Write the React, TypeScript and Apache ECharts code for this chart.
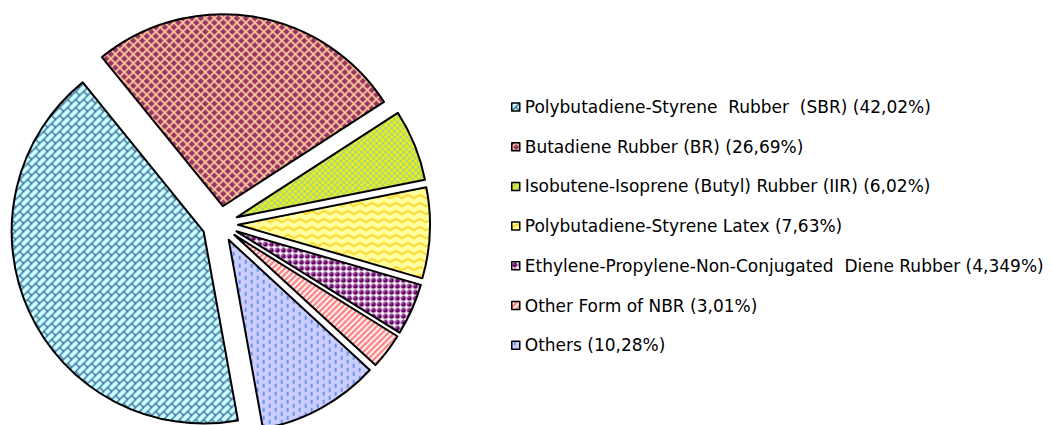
import React, { useEffect, useRef } from "react";
import * as echarts from "echarts";

const categories = [
  "Polybutadiene-Styrene  Rubber  (SBR)",
  "Butadiene Rubber (BR)",
  "Isobutene-Isoprene (Butyl) Rubber (IIR)",
  "Polybutadiene-Styrene Latex",
  "Ethylene-Propylene-Non-Conjugated  Diene Rubber",
  "Other Form of NBR",
  "Others",
];
const shares = [42.02, 26.69, 6.02, 7.63, 4.349, 3.01, 10.28];
const shareLabels = ["42,02%", "26,69%", "6,02%", "7,63%", "4,349%", "3,01%", "10,28%"];

const svgUrl = (w: number, h: number, body: string) =>
  "data:image/svg+xml;charset=utf-8," +
  encodeURIComponent(
    `<svg xmlns="http://www.w3.org/2000/svg" width="${w}" height="${h}" viewBox="0 0 ${w} ${h}">${body}</svg>`
  );

const pat = (w: number, h: number, body: string) => ({
  image: svgUrl(w, h, body),
  repeat: "repeat",
  imageWidth: w,
  imageHeight: h,
});

const patterns = [
  // SBR: diagonal bricks
  pat(
    8,
    8,
    `<rect width="8" height="8" fill="#CCFFFF"/><path d="M-1 9L9 -1M-1 1L1 -1M7 9L9 7M4 4L8 8" stroke="#2F6496" stroke-width="1.3" fill="none"/>`
  ),
  // BR: maroon diamonds on peach
  pat(
    9,
    9,
    `<rect width="9" height="9" fill="#FFCC99"/><g fill="#993366"><path d="M4.5 1.2L7.8 4.5L4.5 7.8L1.2 4.5Z"/><path d="M0 -3.3L3.3 0L0 3.3L-3.3 0Z"/><path d="M9 -3.3L12.3 0L9 3.3L5.7 0Z"/><path d="M0 5.7L3.3 9L0 12.3L-3.3 9Z"/><path d="M9 5.7L12.3 9L9 12.3L5.7 9Z"/></g>`
  ),
  // IIR: yellow with lattice
  pat(
    6,
    6,
    `<rect width="6" height="6" fill="#F4F800"/><path d="M0 0L6 6M6 0L0 6" stroke="#9FC6A6" stroke-width="1.1" fill="none"/>`
  ),
  // Latex: zigzag
  pat(
    12,
    8,
    `<rect width="12" height="8" fill="#FFFFA0"/><path d="M-3 3.75L0 5.5L6 2L12 5.5L15 3.75" stroke="#FFD21F" stroke-width="1.8" fill="none"/>`
  ),
  // EPDM: purple spheres
  pat(
    6,
    6,
    `<rect width="6" height="6" fill="#FFFFFF"/><circle cx="3" cy="3" r="2.5" fill="#660066"/><circle cx="2.2" cy="2.2" r="0.7" fill="#D9A6D9"/>`
  ),
  // NBR: wide upward diagonal stripes
  pat(
    6,
    6,
    `<rect width="6" height="6" fill="#FFFFFF"/><path d="M-1 7L7 -1M-1 1L1 -1M5 7L7 5" stroke="#FF8080" stroke-width="2.3" fill="none"/>`
  ),
  // Others: dashed vertical
  pat(
    12,
    8,
    `<rect width="12" height="8" fill="#CCCCFF"/><path d="M3 0V4M9 4V8" stroke="#0066CC" stroke-width="1" fill="none"/>`
  ),
];

export default function App() {
  const ref = useRef<HTMLDivElement>(null);
  useEffect(() => {
    if (!ref.current) return;
    const chart = echarts.init(ref.current, undefined, { renderer: "svg" });
    chart.setOption({
      animation: false,
      backgroundColor: "#ffffff",
      legend: {
        orient: "vertical",
        left: 511,
        top: 97,
        padding: 0,
        itemWidth: 8,
        itemHeight: 8,
        itemGap: 19.7,
        icon: "rect",
        selectedMode: false,
        itemStyle: { borderColor: "#000", borderWidth: 1.5 },
        textStyle: {
          fontFamily: "DejaVu Sans",
          fontSize: 17,
          color: "#000",
          lineHeight: 20,
        },
        formatter: (name: string) =>
          `${name} (${shareLabels[categories.indexOf(name)]})`,
        data: categories,
      },
      series: [
        {
          type: "pie",
          center: [220, 224],
          radius: 192,
          startAngle: 280.3,
          clockwise: true,
          selectedMode: "multiple",
          selectedOffset: 18,
          label: { show: false },
          labelLine: { show: false },
          emphasis: { disabled: true },
          itemStyle: { borderColor: "#000", borderWidth: 2 },
          data: categories.map((name, i) => ({
            name,
            value: shares[i],
            selected: true,
            itemStyle: { color: patterns[i] },
          })),
        },
      ],
    });
    return () => chart.dispose();
  }, []);
  return (
    <div
      ref={ref}
      style={{ position: "absolute", left: 0, top: 0, width: 1052, height: 425 }}
    />
  );
}
